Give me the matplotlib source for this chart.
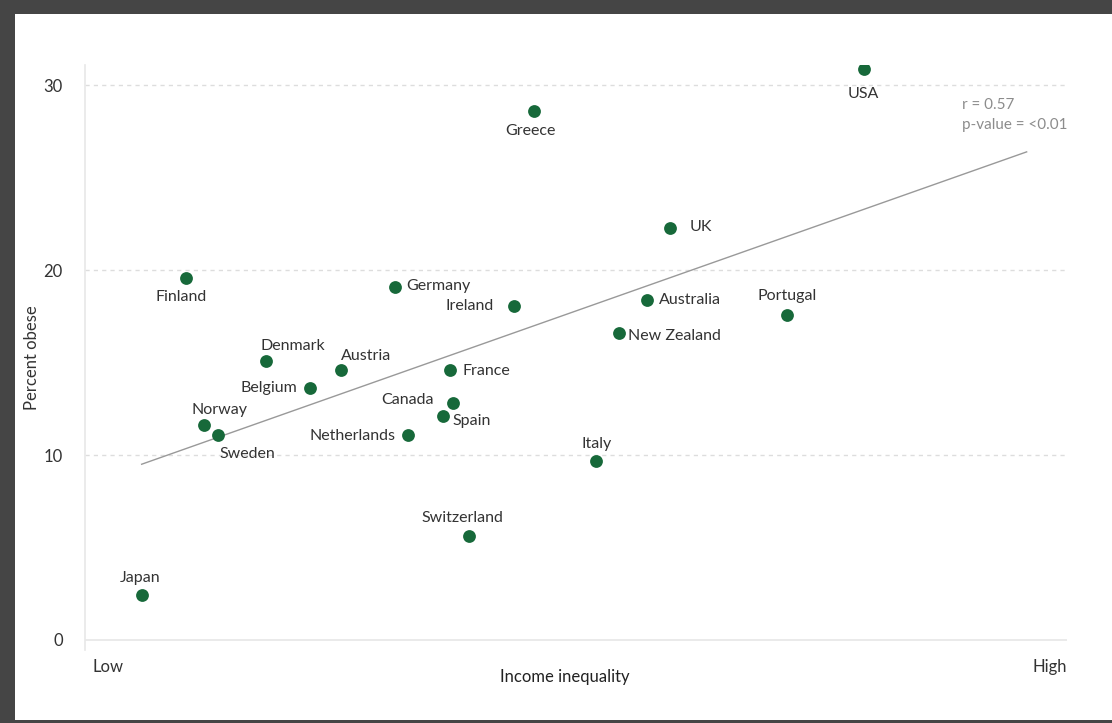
import numpy as np
import matplotlib.pyplot as plt
from matplotlib.patches import Rectangle

# Income inequality (ratio-style index, only Low/High shown) vs percent obese
countries = ['USA', 'Greece', 'UK', 'Finland', 'Germany', 'Ireland', 'Australia',
             'Portugal', 'New Zealand', 'Denmark', 'Austria', 'France', 'Belgium',
             'Canada', 'Spain', 'Norway', 'Sweden', 'Netherlands', 'Italy',
             'Switzerland', 'Japan']
inequality = [8.50, 6.17, 7.13, 3.71, 5.19, 6.03, 6.97,
              7.96, 6.77, 4.28, 4.81, 5.58, 4.59,
              5.60, 5.53, 3.84, 3.94, 5.28, 6.61,
              5.71, 3.40]
obese = [30.9, 28.6, 22.3, 19.6, 19.1, 18.05, 18.4,
         17.6, 16.6, 15.1, 14.6, 14.6, 13.6,
         12.8, 12.1, 11.6, 11.1, 11.1, 9.7,
         5.6, 2.4]

fit_x = [3.40, 9.65]
fit_y = [9.5, 26.4]
stats_text = 'r = 0.57\np-value = <0.01'
y_ticks = [0, 10, 20, 30]

# label placement: (dx px, dy px, horizontal alignment)
label_pos = {
    'USA': (0, -25, 'center'), 'Greece': (-3, -20, 'center'),
    'UK': (20, 1, 'left'), 'Finland': (-4, -19, 'center'),
    'Germany': (11, 1, 'left'), 'Ireland': (-20, 0, 'right'),
    'Australia': (12, 0, 'left'), 'Portugal': (0, 19, 'center'),
    'New Zealand': (9, -3, 'left'), 'Denmark': (27, 15, 'center'),
    'Austria': (25, 14, 'center'), 'France': (12, -1, 'left'),
    'Belgium': (-13, 0, 'right'), 'Canada': (-19, 3, 'right'),
    'Spain': (9, -5, 'left'), 'Norway': (16, 15, 'center'),
    'Sweden': (29, -19, 'center'), 'Netherlands': (-12, -1, 'right'),
    'Italy': (0, 17, 'center'), 'Switzerland': (-6, 18, 'center'),
    'Japan': (-2, 17, 'center'),
}

plt.rcParams['font.family'] = ['Lato', 'DejaVu Sans']
green = '#17693a'
text_col = '#333333'

fig = plt.figure(figsize=(11.12, 7.23), dpi=100)
# dark frame around the white card
fig.patches.append(Rectangle((0, 0), 1, 1, transform=fig.transFigure,
                             facecolor='#454545', edgecolor='none', zorder=-10))
fig.patches.append(Rectangle((15 / 1112, 3 / 723), 1, 706 / 723,
                             transform=fig.transFigure, facecolor='white',
                             edgecolor='none', zorder=-9))

ax = fig.add_axes([85 / 1112, 1 - 650 / 723, 982 / 1112, 585 / 723])
ax.set_facecolor('none')
ax.set_xlim(3.0, 9.935)
ax.set_ylim(-0.55, 31.1)

for yv in y_ticks[1:]:
    ax.axhline(yv, color='#dddddd', lw=1, ls=(0, (3, 3)), zorder=0)
ax.axhline(0, color='#e6e6e6', lw=1.2, zorder=0)

ax.plot(fit_x, fit_y, color='#999999', lw=1, zorder=1)
ax.scatter(inequality, obese, s=85, color=green, zorder=3, linewidths=0)

for name, xv, yv in zip(countries, inequality, obese):
    dx, dy, ha = label_pos[name]
    ax.annotate(name, (xv, yv), xytext=(dx, dy), textcoords='offset pixels',
                ha=ha, va='center', fontsize=11.5, color=text_col)

ax.text(9.19, 27.45, stats_text, fontsize=11, color='#8c8c8c',
        ha='left', va='bottom', linespacing=1.55)

for side in ['top', 'right', 'bottom']:
    ax.spines[side].set_visible(False)
ax.spines['left'].set_color('#e8e8e8')
ax.spines['left'].set_linewidth(1.2)

ax.set_yticks(y_ticks)
ax.set_yticklabels([str(t) for t in y_ticks], fontsize=12, color=text_col)
ax.tick_params(axis='y', length=0, pad=16)
ax.set_xticks([])
ax.set_ylabel('Percent obese', fontsize=12, color=text_col)
ax.yaxis.set_label_coords(-0.046, 0.5)

ax.text(0.008, -0.015, 'Low', transform=ax.transAxes, fontsize=12,
        color=text_col, ha='left', va='top')
ax.text(1.0, -0.015, 'High', transform=ax.transAxes, fontsize=12,
        color=text_col, ha='right', va='top')
ax.text(0.489, -0.033, 'Income inequality', transform=ax.transAxes,
        fontsize=12, color='#222222', ha='center', va='top')

fig.savefig('out.png', dpi=100)
